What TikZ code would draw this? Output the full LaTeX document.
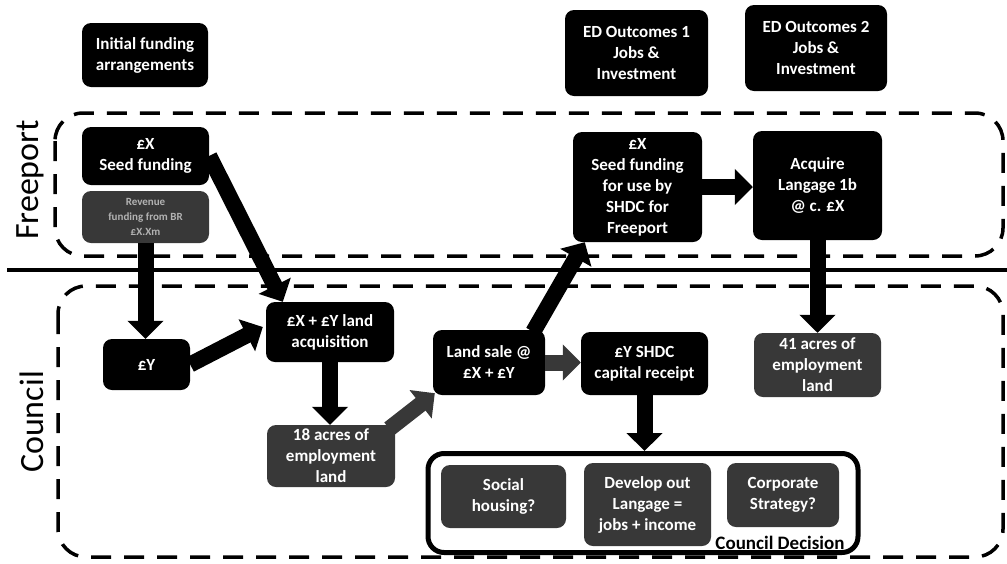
\documentclass[tikz,border=0pt]{standalone}
\usepackage{fontspec}
\setmainfont{Carlito}
\usetikzlibrary{arrows.meta,calc}
\definecolor{greybox}{gray}{0.22}
\tikzset{
  box/.style={rounded corners=9pt, fill=black, text=white, align=center, inner sep=0pt,
    font=\fontsize{17}{21}\selectfont\bfseries},
  greyb/.style={box, fill=greybox},
  frame/.style={line width=3.5pt, dash pattern=on 20pt off 13pt, rounded corners=28pt},
  fat/.style={line width=16pt, -{Triangle[width=35pt,length=18pt]}},
  greyfat/.style={fat, draw=greybox},
  side/.style={font=\fontsize{34}{40}\selectfont, rotate=90}
}
\begin{document}
\begin{tikzpicture}[x=1pt,y=-1pt]
\useasboundingbox (0,0) rectangle (1007,563);
% frames
\draw[frame] (55,113) rectangle (1003,256);
\draw[frame] (58,286) rectangle (1003,557);
\draw[line width=4pt] (7,270) -- (1007,270);
\node[side] (freeport) at (30,180) {Freeport};
\node[side] (council) at (32,422) {Council};
% top boxes
\node[box, minimum width=126pt, minimum height=64pt] (init) at (145,55) {Initial funding\\arrangements};
\node[box, minimum width=143pt, minimum height=86pt] (ed1) at (636.5,53) {ED Outcomes 1\\Jobs \&\\Investment};
\node[box, minimum width=142pt, minimum height=86pt] (ed2) at (816,48) {ED Outcomes 2\\Jobs \&\\Investment};
% freeport
\node[box, minimum width=127pt, minimum height=58pt] (seed) at (145.5,156) {£X\\Seed funding};
\node[greyb, minimum width=127pt, minimum height=52pt, text=white!70!black, font=\fontsize{11}{15}\selectfont\bfseries] (rev) at (145.5,217) {Revenue\\funding from BR\\£X.Xm};
\node[box, minimum width=129pt, minimum height=110pt] (seedshdc) at (637.5,187) {£X\\Seed funding\\for use by\\SHDC for\\Freeport};
\node[box, minimum width=129pt, minimum height=109pt] (acq) at (817.5,185.5) {Acquire\\Langage 1b\\@ c. £X};
% council
\node[box, minimum width=87pt, minimum height=51pt] (fy) at (146.5,364.5) {£Y};
\node[box, minimum width=128pt, minimum height=60pt] (landacq) at (330,332) {£X + £Y land\\acquisition};
\node[greyb, minimum width=128pt, minimum height=62pt] (acres18) at (331,456) {18 acres of\\employment\\land};
\node[box, minimum width=112pt, minimum height=65pt] (landsale) at (489,362.5) {Land sale @\\£X + £Y};
\node[box, minimum width=127pt, minimum height=63pt] (receipt) at (644.5,363.5) {£Y SHDC\\capital receipt};
\node[greyb, minimum width=127pt, minimum height=64pt] (acres41) at (817.5,365) {41 acres of\\employment\\land};
% council decision
\node[draw, line width=5pt, rounded corners=16pt, minimum width=430pt, minimum height=99pt, inner sep=0pt] (decision) at (643,503) {};
\node[greyb, minimum width=125pt, minimum height=63pt] (social) at (503.5,496.5) {Social\\housing?};
\node[greyb, minimum width=127pt, minimum height=83pt] (develop) at (647.5,504.5) {Develop out\\Langage =\\jobs + income};
\node[greyb, minimum width=112pt, minimum height=64pt] (corp) at (783,495) {Corporate\\Strategy?};
\node[font=\fontsize{19}{22}\selectfont\bfseries, inner sep=0pt] (declabel) at (780,543) {Council Decision};
% arrows
\draw[fat] (rev.south) -- (rev.south |- fy.north);
\draw[fat] (seed.east) -- ($(landacq.north west)+(17,0)$);
\draw[fat] (fy.east) -- ($(landacq.west)+(-3,-5)$);
\draw[fat] (landacq.south) -- (landacq.south |- acres18.north);
\draw[greyfat] ($(acres18.north east)+(-6,4)$) -- ($(landsale.south west)+(2,-2)$);
\draw[fat] ($(landsale.north east)+(-12,2)$) -- ($(seedshdc.south west)+(12,0)$);
\draw[greyfat] (landsale.east) -- (landsale.east -| receipt.west);
\draw[fat] (receipt.south) -- (receipt.south |- decision.north);
\draw[fat] (seedshdc.east) -- (seedshdc.east -| acq.west);
\draw[fat] (acq.south) -- (acq.south |- acres41.north);
\end{tikzpicture}
\end{document}
